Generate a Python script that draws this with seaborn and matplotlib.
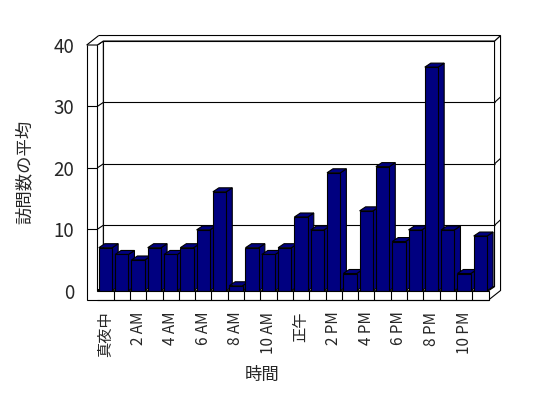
import seaborn as sns
import matplotlib.pyplot as plt
import pandas as pd
from matplotlib.patches import Polygon

sns.set_style("white")
plt.rcParams["font.family"] = ["Noto Sans CJK JP", "DejaVu Sans"]

# Data
hour_labels = ["真夜中", "1 AM", "2 AM", "3 AM", "4 AM", "5 AM", "6 AM", "7 AM",
               "8 AM", "9 AM", "10 AM", "11 AM", "正午", "1 PM", "2 PM", "3 PM",
               "4 PM", "5 PM", "6 PM", "7 PM", "8 PM", "9 PM", "10 PM", "11 PM"]
avg_visits = [7.0, 5.9, 5.0, 7.0, 5.9, 7.0, 9.9, 16.1, 0.8, 7.0, 5.9, 7.0,
              12.0, 9.9, 19.2, 2.8, 13.0, 20.2, 8.0, 9.9, 36.4, 9.9, 2.8, 8.9]
y_ticks = [0, 10, 20, 30, 40]

df = pd.DataFrame({"hour": hour_labels, "visits": avg_visits})

fig = plt.figure(figsize=(5.48, 3.98), dpi=100)
ax = fig.add_axes([0.1776, 0.2696, 0.7139, 0.6173])

# pixel sizes of the fake 3D box, turned into data units
n = len(hour_labels)
px_x = 391.2 / n
px_y = 245.7 / y_ticks[-1]
dx, dy = 6 / px_x, 4 / px_y        # depth of floor / bars
tx, ty = 6 / px_x, 5.5 / px_y      # back wall thickness
lw_w = 10.6 / px_x                 # left wall thickness
ft = 9.3 / px_y                    # floor thickness
x0, x1 = -0.5, n - 0.5
top = y_ticks[-1]
LW = 0.8


def face(pts, fc="white", z=1, closed=True):
    ax.add_patch(Polygon(pts, closed=closed, facecolor=fc, edgecolor="black",
                         lw=LW, zorder=z, clip_on=False))


def line(xs, ys, z=1.5):
    ax.plot(xs, ys, color="black", lw=LW, zorder=z, clip_on=False,
            solid_capstyle="butt")


sns.barplot(data=df, x="hour", y="visits", order=hour_labels, color="#000080",
            saturation=1, width=0.82, edgecolor="black", linewidth=LW,
            ax=ax, zorder=3)

# side and top faces of each bar
for p in list(ax.patches):
    l = p.get_x()
    r = l + p.get_width()
    h = p.get_height()
    face([(r, 0), (r, h), (r + dx, h + dy), (r + dx, dy)], fc="#000080", z=2)
    face([(l, h), (r, h), (r + dx, h + dy), (l + dx, h + dy)], fc="#000080", z=2)

# back wall + gridlines
face([(x0 + dx, dy), (x1 + dx, dy), (x1 + dx, top + dy), (x0 + dx, top + dy)], z=1)
for v in y_ticks[1:-1]:
    line([x0 + dx, x1 + dx], [v + dy, v + dy])
    line([x1 + dx, x1 + dx + tx], [v + dy, v + dy + ty])

# left wall inner side
face([(x0, 0), (x0, top), (x0 + dx, top + dy), (x0 + dx, dy)], z=1)
for v in y_ticks:
    line([x0, x0 + dx], [v, v + dy])

# floor top
face([(x0, 0), (x1, 0), (x1 + dx, dy), (x0 + dx, dy)], z=1.2)

# left wall front + floor front
face([(x0, top), (x0, 0), (x1, 0), (x1, -ft), (x0 - lw_w, -ft), (x0 - lw_w, top)],
     z=4, closed=False)
line([x0, x1], [-ft, -ft], z=4)
for v in y_ticks[1:-1]:
    line([x0 - lw_w, x0], [v, v], z=4)
for k in range(n - 1):
    line([k + 0.5, k + 0.5], [-ft, 0], z=4)

# top of walls
face([(x0 - lw_w, top), (x0, top), (x0 + dx, top + dy), (x1 + dx, top + dy),
      (x1 + dx + tx, top + dy + ty), (x0 - lw_w + dx + tx, top + dy + ty)],
     z=4, closed=False)
line([x0 - lw_w + dx + tx, x0 - lw_w], [top + dy + ty, top], z=4)

# right side thickness of back wall / floor
face([(x1 + dx, top + dy), (x1 + dx + tx, top + dy + ty),
      (x1 + dx + tx, -ft + dy + ty), (x1, -ft), (x1, 0), (x1 + dx, dy)], z=1.3)

ax.set_xlim(x0, x1)
ax.set_ylim(0, top)
ax.set_xticks(range(0, n, 2))
ax.set_xticklabels(hour_labels[::2], rotation=90, fontsize=11)
ax.set_yticks(y_ticks)
ax.set_yticklabels([str(v) for v in y_ticks], fontsize=13.5)
ax.tick_params(axis="x", length=0, pad=15)
ax.tick_params(axis="y", length=0, pad=16.5)
for s in ax.spines.values():
    s.set_visible(False)
ax.set_facecolor("none")
ax.grid(False)

ax.set_xlabel("時間", fontsize=12.5)
ax.set_ylabel("訪問数の平均", fontsize=12.5)
ax.xaxis.set_label_coords(0.421, -0.343)
ax.xaxis.label.set_va("center")
ax.yaxis.set_label_coords(-0.185, 0.483)
ax.yaxis.label.set_va("center")

fig.savefig("out.png", dpi=100)
plt.close()
